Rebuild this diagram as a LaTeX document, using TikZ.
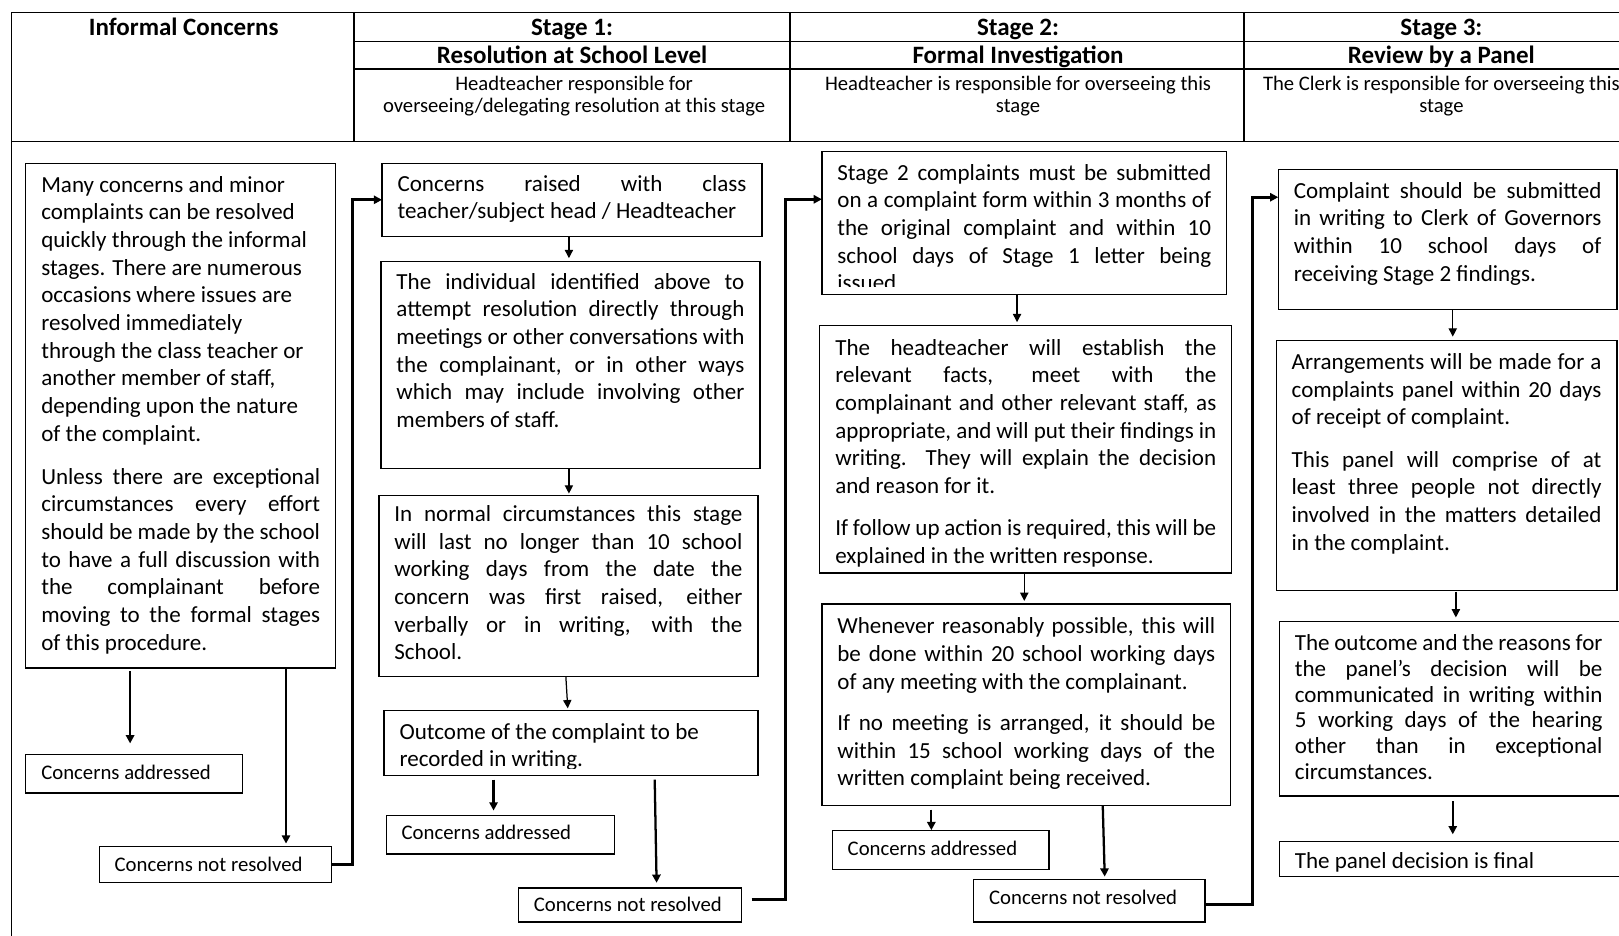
\documentclass[tikz,border=0pt]{standalone}
\usepackage{fontspec}
\setmainfont{Carlito}
\usetikzlibrary{arrows.meta}
\newcommand\jl[1]{\makebox[\linewidth][s]{#1}}
\newcommand\rl[1]{\makebox[\linewidth][l]{#1}}
% #1 style, #2 name, #3 x1, #4 y1, #5 x2, #6 y2, #7 first baseline offset, #8 lines
\newcommand\bx[8][]{%
  \node[box,#1] (#2) at (#3,#4) {\begin{minipage}[t][\dimexpr#6pt-#4pt\relax][t]{\dimexpr#5pt-#3pt-30pt\relax}\rule{0pt}{#7pt}#8\end{minipage}};}
\tikzset{
  box/.style={draw, line width=1.2pt, inner xsep=15pt, inner ysep=0pt, outer sep=0pt,
    anchor=north west, font=\fontsize{22.3}{26.8}\selectfont},
  small/.style={font=\fontsize{20.1}{24}\selectfont},
  tight/.style={font=\fontsize{22.3}{25}\selectfont},
  arr/.style={-{Triangle[length=8pt,width=8pt]}, line width=1.2pt},
  arrthick/.style={arr, line width=2.2pt},
  link/.style={arr, line width=2.8pt},
  hd/.style={font=\bfseries\fontsize{24.2}{26}\selectfont, inner sep=0pt, text height=17pt, text depth=6pt},
  sub/.style={font=\fontsize{20}{21.5}\selectfont, align=center, inner sep=0pt},
  tabline/.style={line width=1.5pt}
}
\begin{document}
\begin{tikzpicture}[x=1pt,y=-1pt]
\useasboundingbox (0,0) rectangle (1568,906);
\clip (0,0) rectangle (1568,906);
% header table
\draw[tabline] (11,912) -- (11,12) -- (1600,12);
\draw[tabline] (11,137) -- (1600,137);
\draw[tabline] (343,40) -- (1600,40);
\draw[tabline] (343,67) -- (1600,67);
\draw[tabline] (343,12) -- (343,137);
\draw[tabline] (765,12) -- (765,137);
\draw[tabline] (1205,12) -- (1205,137);
\node[hd] (h0) at (178,29) {Informal Concerns};
\node[hd] (h1a) at (554,29) {Stage 1:};
\node[hd] (h1b) at (554,56) {Resolution at School Level};
\node[sub] (h1c) at (556,93) {Headteacher responsible for\\overseeing/delegating resolution at this stage};
\node[hd] (h2a) at (986,29) {Stage 2:};
\node[hd] (h2b) at (986,56) {Formal Investigation};
\node[sub] (h2c) at (986,93) {Headteacher is responsible for overseeing this\\stage};
\node[hd] (h3a) at (1396,29) {Stage 3:};
\node[hd] (h3b) at (1396,56) {Review by a Panel};
\node[sub] (h3c) at (1396,93) {The Clerk is responsible for overseeing this\\stage};

% Informal column
\bx{A}{25}{158}{325}{647}{28}{%
\rl{Many concerns and minor}\\
\rl{complaints can be resolved}\\
\rl{quickly through the informal}\\
\rl{stages. There are numerous}\\
\rl{occasions where issues are}\\
\rl{resolved immediately}\\
\rl{through the class teacher or}\\
\rl{another member of staff,}\\
\rl{depending upon the nature}\\
\rl{of the complaint.}\\[15pt]
\jl{Unless there are exceptional}\\
\jl{circumstances every effort}\\
\jl{should be made by the school}\\
\jl{to have a full discussion with}\\
\jl{the complainant before}\\
\jl{moving to the formal stages}\\
\rl{of this procedure.}}
\bx[small]{Aadd}{25}{731}{235}{768}{24}{\rl{Concerns addressed}}
\bx[small]{Anr}{96}{820}{321}{855}{24}{\rl{Concerns not resolved}}

% Stage 1 column
\bx{B}{370}{158}{738}{229}{27}{%
\jl{Concerns raised with class}\\
\rl{teacher/subject head / Headteacher}}
\bx{C}{369}{253}{736}{454}{27}{%
\jl{The individual identified above to}\\
\jl{attempt resolution directly through}\\
\jl{meetings or other conversations with}\\
\jl{the complainant, or in other ways}\\
\jl{which may include involving other}\\
\rl{members of staff.}}
\bx{D}{367}{480}{734}{655}{25}{%
\jl{In normal circumstances this stage}\\
\jl{will last no longer than 10 school}\\
\jl{working days from the date the}\\
\jl{concern was first raised, either}\\
\jl{verbally or in writing, with the}\\
\rl{School.}}
\bx{E}{372}{688}{734}{751}{28}{%
\rl{Outcome of the complaint to be}\\
\rl{recorded in writing.}}
\fill[white] (373,745) rectangle (733,750.3);
\bx[small]{Fadd}{374}{790}{595}{827}{23}{\rl{Concerns addressed}}
\bx[small]{Gnr}{502}{860}{718}{893}{23}{\rl{Concerns not resolved}}

% Stage 2 column
\bx{H}{796}{147}{1188}{285}{27.5}{%
\jl{Stage 2 complaints must be submitted}\\
\jl{on a complaint form within 3 months of}\\
\jl{the original complaint and within 10}\\
\jl{school days of Stage 1 letter being}\\
\rl{issued}}
\fill[white] (797,277.6) rectangle (1187,284.3);
\bx{I}{794}{315}{1193}{555}{29}{%
\jl{The headteacher will establish the}\\
\jl{relevant facts, meet with the}\\
\jl{complainant and other relevant staff, as}\\
\jl{appropriate, and will put their findings in}\\
\jl{writing.\ \ They will explain the decision}\\
\rl{and reason for it.}\\[14pt]
\jl{If follow up action is required, this will be}\\
\rl{explained in the written response.}}
\bx{J}{796}{585}{1192}{780}{29}{%
\jl{Whenever reasonably possible, this will}\\
\jl{be done within 20 school working days}\\
\rl{of any meeting with the complainant.}\\[13pt]
\jl{If no meeting is arranged, it should be}\\
\jl{within 15 school working days of the}\\
\rl{written complaint being received.}}
\bx[small]{Kadd}{806}{804}{1016}{842}{25}{\rl{Concerns addressed}}
\bx[small]{Lnr}{943}{852}{1167}{893}{24}{\rl{Concerns not resolved}}

% Stage 3 column
\bx{M}{1238}{164}{1566}{300}{28}{%
\jl{Complaint should be submitted}\\
\jl{in writing to Clerk of Governors}\\
\jl{within 10 school days of}\\
\rl{receiving Stage 2 findings.}}
\bx{N}{1236}{330}{1566}{572}{28}{%
\jl{Arrangements will be made for a}\\
\jl{complaints panel within 20 days}\\
\rl{of receipt of complaint.}\\[14pt]
\jl{This panel will comprise of at}\\
\jl{least three people not directly}\\
\jl{involved in the matters detailed}\\
\rl{in the complaint.}}
\bx[tight]{O}{1239}{602}{1576}{771}{28}{\setlength{\linewidth}{298pt}%
\jl{The outcome and the reasons for}\\
\jl{the panel’s decision will be}\\
\jl{communicated in writing within}\\
\jl{5 working days of the hearing}\\
\jl{other than in exceptional}\\
\rl{circumstances.}}
\bx{P}{1239}{815}{1576}{849}{26}{\rl{The panel decision is final}}

% connectors
\draw[arrthick, shorten <=3pt, shorten >=11pt] (A.south -| 126,0) -- (Aadd.north -| 126,0);
\draw[arrthick, shorten >=3pt] (A.south -| 277,0) -- (Anr.north -| 277,0);
\draw[link] (Anr.east) -- (341,837.5) |- (B.west);
\draw[arr, shorten >=3pt] (B.south -| 551,0) -- (C.north -| 551,0);
\draw[arr, shorten >=2pt] (C.south -| 551,0) -- (D.north -| 551,0);
\draw[arr, shorten >=2pt] (D.south -| 548,0) -- (E.north -| 550,0);
\draw[arrthick, shorten <=4pt, shorten >=5pt] (E.south -| 478,0) -- (Fadd.north -| 478,0);
\draw[arrthick, shorten <=4pt, shorten >=5pt] (E.south -| 634,0) -- (Gnr.north -| 636,0);
\draw[link, shorten <=10pt] (Gnr.east |- 0,871) -- (761,871) |- (H.west |- 0,193);
\draw[arr, shorten >=3pt] (H.south -| 985,0) -- (I.north -| 985,0);
\draw[arr, shorten >=3pt] (I.south -| 992,0) -- (J.north -| 992,0);
\draw[arrthick, shorten <=4pt] (J.south -| 902,0) -- (Kadd.north -| 902,0);
\draw[arrthick, shorten >=3pt] (J.south -| 1068,0) -- (Lnr.north -| 1070,0);
\draw[link] (Lnr.east |- 0,876) -- (1213,876) |- (M.west |- 0,191);
\draw[arr, shorten >=4pt] (M.south -| 1407,0) -- (N.north -| 1407,0);
\draw[arr, shorten <=1pt, shorten >=4pt] (N.south -| 1410,0) -- (O.north -| 1410,0);
\draw[arrthick, shorten <=5pt, shorten >=7pt] (O.south -| 1407,0) -- (P.north -| 1407,0);
\end{tikzpicture}
\end{document}
